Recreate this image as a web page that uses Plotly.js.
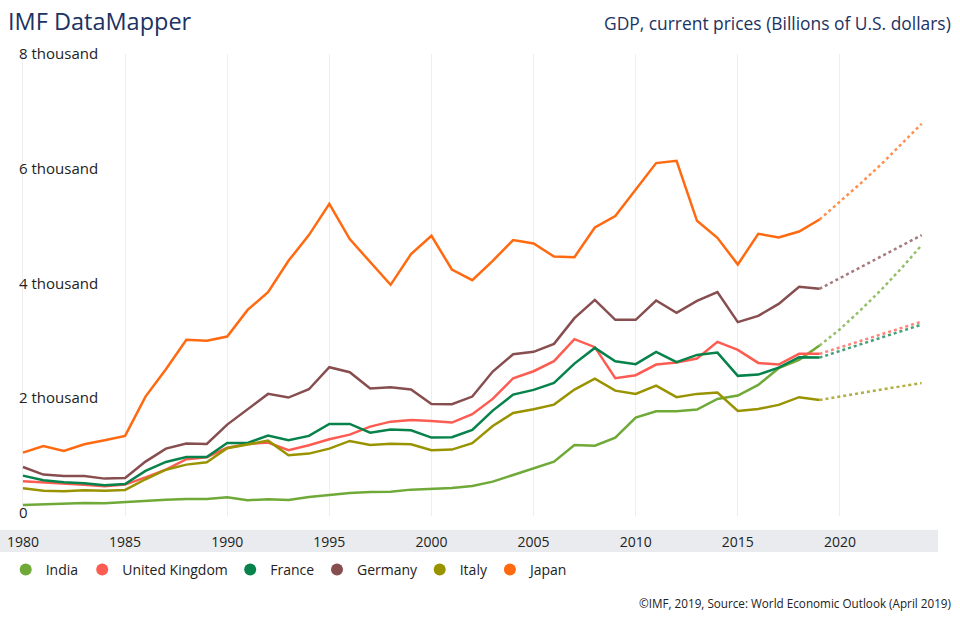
<!DOCTYPE html>
<html>
<head>
<meta charset="utf-8">
<script src="https://cdn.plot.ly/plotly-3.0.1.min.js"></script>
<style>
  html, body { margin: 0; padding: 0; background: #ffffff; }
  #chart { width: 960px; height: 625px; }
</style>
</head>
<body>
<div id="chart"></div>
<script>
// ---- Data (Billions of U.S. dollars) ----
var years = [];
for (var yr = 1980; yr <= 2019; yr++) { years.push(yr); }
var projYears = [2019, 2020, 2021, 2022, 2023, 2024];

var seriesNames = ["India", "United Kingdom", "France", "Germany", "Italy", "Japan"];
var seriesColors = ["#6fa938", "#fd5c52", "#06824a", "#874e4f", "#9a9300", "#ff6a10"];

var india   = [134,147,152,169,164,187,199,227,239,239,269,216,234,222,274,314,344,361,367,402,414,431,466,541,658,775,890,1181,1169,1309,1658,1770,1770,1798,1984,2042,2229,2520,2665,2914];
var uk      = [548,530,506,489,461,489,615,750,932,967,1134,1199,1222,1089,1176,1281,1361,1501,1588,1618,1600,1571,1717,1984,2345,2467,2642,3026,2887,2345,2398,2583,2618,2688,2979,2839,2612,2583,2770,2770];
var france  = [646,565,530,513,478,501,728,885,972,972,1216,1216,1344,1263,1339,1548,1548,1396,1449,1438,1309,1315,1443,1780,2059,2141,2263,2600,2874,2642,2590,2805,2624,2752,2792,2386,2408,2531,2712,2705];
var germany = [797,664,640,640,594,605,891,1117,1205,1199,1536,1810,2072,2008,2153,2537,2450,2165,2188,2147,1897,1892,2025,2461,2764,2805,2944,3393,3712,3363,3363,3700,3485,3695,3846,3323,3433,3642,3939,3904];
var italy   = [426,384,373,391,384,396,583,750,838,880,1124,1187,1257,1002,1030,1117,1251,1181,1204,1193,1089,1100,1211,1513,1740,1804,1885,2147,2339,2129,2072,2216,2014,2072,2094,1775,1810,1880,2014,1967];
var japan   = [1047,1164,1077,1193,1263,1339,2025,2503,3014,2997,3072,3537,3846,4393,4841,5387,4771,4370,3974,4510,4829,4241,4056,4393,4754,4695,4468,4457,4974,5173,5632,6097,6138,5091,4794,4328,4864,4800,4904,5114];

var indiaProj   = [2914,3200,3530,3880,4260,4666];
var ukProj      = [2770,2880,2990,3100,3215,3333];
var franceProj  = [2705,2820,2935,3050,3165,3281];
var germanyProj = [3904,4090,4280,4460,4650,4841];
var italyProj   = [1967,2025,2085,2145,2205,2263];
var japanProj   = [5114,5420,5740,6070,6420,6783];

var yTickVals = [0, 2000, 4000, 6000, 8000];
var yTickText = ["0", "2 thousand", "4 thousand", "6 thousand", "8 thousand"];
var xTickVals = [1980, 1985, 1990, 1995, 2000, 2005, 2010, 2015, 2020];

var actual = [india, uk, france, germany, italy, japan];
var projected = [indiaProj, ukProj, franceProj, germanyProj, italyProj, japanProj];

// ---- Traces ----
var legendIds = ["legend", "legend2", "legend3", "legend4", "legend5", "legend6"];
var traces = [];
for (var i = 0; i < seriesNames.length; i++) {
  traces.push({
    x: projYears, y: projected[i], type: "scatter", mode: "lines",
    line: { color: seriesColors[i], width: 2.5, dash: "dot" },
    opacity: 0.75, showlegend: false, hoverinfo: "skip"
  });
}
for (var j = 0; j < seriesNames.length; j++) {
  traces.push({
    x: years, y: actual[j], type: "scatter", mode: "lines",
    line: { color: seriesColors[j], width: 2.5 },
    name: seriesNames[j], showlegend: false
  });
}
for (var k = 0; k < seriesNames.length; k++) {
  traces.push({
    x: [null], y: [null], type: "scatter", mode: "markers",
    marker: { color: seriesColors[k], size: 12, symbol: "circle" },
    name: seriesNames[k], showlegend: true, legend: legendIds[k]
  });
}

var plotH = 625 - 54 - 109;   // plot area height in px
function py(p) { return (516 - p) / plotH; }    // page y -> paper y
function px(p) { return (p - 16) / 922; }       // page x -> paper x

var legendStarts = [5.7, 82.2, 230.2, 317, 419.7, 489.9];

var layout = {
  width: 960, height: 625,
  margin: { l: 16, r: 22, t: 54, b: 109, autoexpand: false },
  paper_bgcolor: "#ffffff", plot_bgcolor: "#ffffff",
  font: { family: "Open Sans, sans-serif", color: "#222222", size: 14 },
  title: {
    text: "IMF DataMapper",
    font: { family: "Open Sans, sans-serif", size: 23.5, color: "#1b3262" },
    xref: "container", yref: "container",
    x: 8 / 960, xanchor: "left",
    y: 1 - 22 / 625, yanchor: "middle"
  },
  xaxis: {
    range: [1979.66, 2024.8],
    tickvals: xTickVals,
    showgrid: true, gridcolor: "#eeeeee", gridwidth: 1,
    zeroline: false, showline: false,
    ticks: "", ticklabelstandoff: 16, ticklabeloverflow: "allow",
    tickfont: { family: "Open Sans, sans-serif", size: 14, color: "#222222" },
    fixedrange: true
  },
  yaxis: {
    range: [-58, 8000],
    tickvals: yTickVals, ticktext: yTickText,
    ticklabelposition: "inside", ticklabeloverflow: "allow",
    showgrid: false, zeroline: false, showline: false, ticks: "",
    tickfont: { family: "Open Sans, sans-serif", size: 15, color: "#222222" },
    fixedrange: true
  },
  shapes: [{
    type: "rect", xref: "paper", yref: "paper",
    x0: px(0), x1: px(938), y0: py(552), y1: py(530),
    fillcolor: "#e9ebee", line: { width: 0 }, layer: "below"
  }],
  annotations: [
    {
      text: "GDP, current prices (Billions of U.S. dollars)",
      xref: "paper", yref: "paper", x: px(953), y: py(23),
      xanchor: "right", yanchor: "middle", showarrow: false,
      font: { family: "Open Sans, sans-serif", size: 17.4, color: "#1b3262" }
    },
    {
      text: "©IMF, 2019, Source: World Economic Outlook (April 2019)",
      xref: "paper", yref: "paper", x: px(953), y: py(603),
      xanchor: "right", yanchor: "middle", showarrow: false,
      font: { family: "Open Sans, sans-serif", size: 11.7, color: "#222222" }
    }
  ]
};

for (var m = 0; m < legendIds.length; m++) {
  layout[legendIds[m]] = {
    orientation: "h",
    x: px(legendStarts[m]), xanchor: "left",
    y: py(570), yanchor: "middle",
    font: { family: "Open Sans, sans-serif", size: 14, color: "#222222" },
    bgcolor: "rgba(0,0,0,0)", borderwidth: 0
  };
}

Plotly.newPlot("chart", traces, layout, { staticPlot: true, displayModeBar: false });
</script>
</body>
</html>
